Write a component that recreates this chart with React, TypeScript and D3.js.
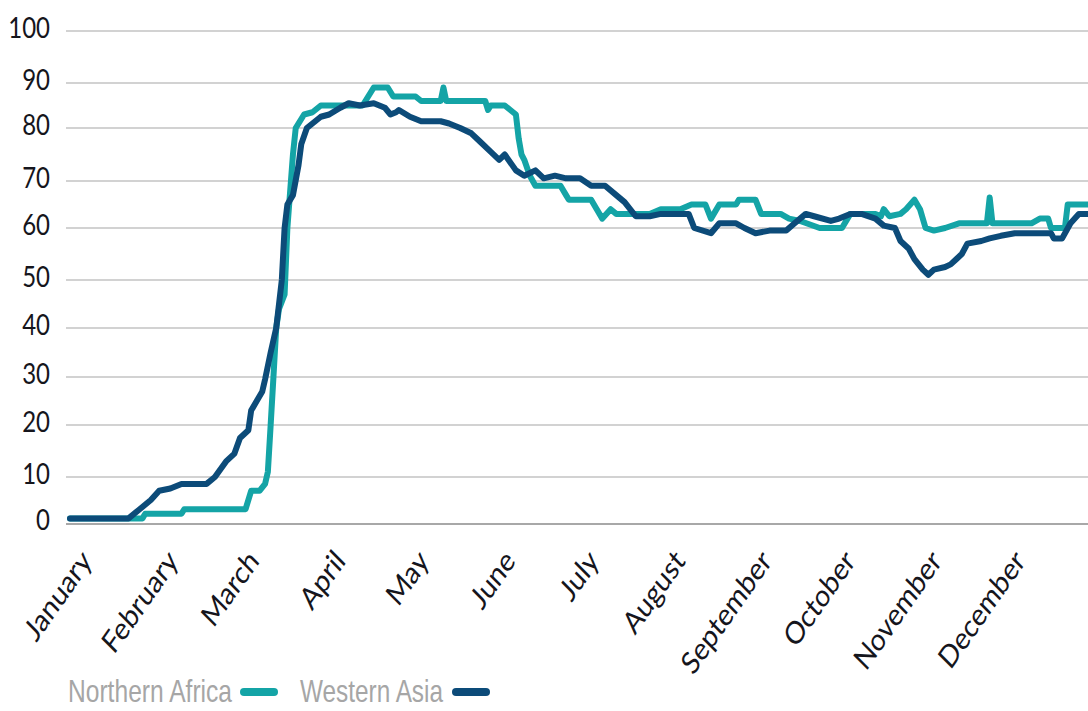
import * as d3 from "d3";
import { useEffect, useRef } from "react";

// y ticks and month labels
const yTicks = [0, 10, 20, 30, 40, 50, 60, 70, 80, 90, 100];
const monthNames = [
  "January", "February", "March", "April", "May", "June",
  "July", "August", "September", "October", "November", "December",
];

// Northern Africa (day of year, value)
const naDays = [
  0, 26, 27, 40, 41, 63, 65, 68, 70, 71, 72, 73, 74, 75, 77, 78, 80, 81, 83, 84,
  87, 90, 105, 107, 109, 114, 116, 124, 126, 133, 134, 135, 149, 150, 151, 156,
  158, 160, 161, 162, 163, 165, 167, 176, 178, 179, 187, 189, 191, 194, 196, 208,
  212, 219, 223, 228, 230, 233, 239, 240, 246, 248, 255, 258, 262, 269, 277, 280,
  289, 291, 292, 294, 298, 300, 303, 305, 307, 310, 314, 319, 329, 330, 331, 345,
  348, 351, 352, 357, 358, 367,
];
const naValues = [
  1, 1, 2, 2, 3, 3, 7, 7, 8.5, 11, 20, 30, 40, 44, 47, 60, 75, 80, 82, 83,
  83.5, 85, 85, 87, 89, 89, 87, 87, 86, 86, 89, 86, 86, 84, 85, 85,
  84, 83, 78, 75, 74, 71, 69, 69, 67, 66, 66, 64, 62, 64, 63, 63,
  64, 64, 65, 65, 62, 65, 65, 66, 66, 63, 63, 62, 61.5, 60, 60, 63,
  63, 62.5, 64, 62.5, 63, 64, 66, 64, 60, 59.5, 60, 61, 61, 66.5, 61, 61,
  62, 62, 60, 60, 65, 65,
];

// Western Asia (day of year, value)
const waDays = [
  0, 21, 25, 29, 32, 36, 40, 49, 52, 56, 59, 61, 64, 65, 67, 69, 70, 72, 74, 76,
  77, 78, 80, 82, 83, 85, 86, 90, 93, 97, 100, 104, 109, 113, 115, 117, 118, 122,
  126, 133, 136, 140, 144, 147, 151, 154, 156, 160, 163, 167, 170, 174, 178, 183,
  187, 192, 196, 199, 203, 208, 212, 222, 224, 230, 233, 239, 242, 246, 251, 257,
  260, 264, 267, 273, 276, 280, 284, 289, 292, 296, 298, 301, 303, 306, 308, 310,
  314, 316, 318, 320, 322, 327, 330, 334, 339, 352, 353, 356, 359, 362, 367,
];
const waValues = [
  1, 1, 3, 5, 7, 7.5, 8.5, 8.5, 10, 13, 14.5, 17.5, 19, 23, 25, 27, 29.5, 35, 40, 50,
  60, 65, 67, 73, 77, 80, 80.5, 82.5, 83, 84.5, 85.5, 85, 85.5, 84.5, 83, 83.5, 84, 82.5,
  81.5, 81.5, 81, 80, 79, 77.5, 75.5, 74, 75, 72, 71, 72, 70.5, 71, 70.5, 70.5,
  69, 69, 67, 65.5, 62.5, 62.5, 63, 63, 60, 59, 61, 61, 60, 59, 59.5, 59.5,
  61, 63, 62.5, 61.5, 62, 63, 63, 62, 60.5, 60, 57.5, 56, 54, 52, 51, 52,
  52.5, 53, 54, 55, 57, 57.5, 58, 58.5, 59, 59, 58, 58, 61, 63, 63,
];

const series = [
  { name: "Northern Africa", days: naDays, values: naValues, color: "#14a4a6" },
  { name: "Western Asia", days: waDays, values: waValues, color: "#0c4b79" },
];

export default function App() {
  const svgRef = useRef<SVGSVGElement>(null);
  const width = 1088;
  const height = 711;

  useEffect(() => {
    const svg = d3.select(svgRef.current);
    svg.selectAll("*").remove();

    const start = new Date(2020, 0, 1);
    const end = new Date(2021, 0, 1);
    const x = d3.scaleTime().domain([start, end]).range([70, 1090]);
    // gridlines in the picture are not evenly spaced
    const y = d3
      .scaleLinear()
      .domain(yTicks)
      .range([523, 477, 425, 377, 328, 280, 228, 181, 128, 83, 31]);

    const font = "Lato, 'Open Sans', sans-serif";

    // gridlines
    svg.append("g")
      .selectAll("line")
      .data(yTicks.filter((t) => t > 0))
      .enter()
      .append("line")
      .attr("x1", 66)
      .attr("x2", width)
      .attr("y1", (d) => y(d))
      .attr("y2", (d) => y(d))
      .attr("stroke", "#d2d2d2")
      .attr("stroke-width", 2);

    // y labels (picture is a bit stretched vertically)
    svg.append("g")
      .selectAll("text")
      .data(yTicks)
      .enter()
      .append("text")
      .attr("transform", (d) => `translate(50,${y(d) - 3}) scale(1,1.2)`)
      .attr("dy", "0.36em")
      .attr("text-anchor", "end")
      .attr("font-family", font)
      .attr("font-size", 24)
      .attr("fill", "#15151c")
      .text((d) => d);

    // month labels
    const months = d3.timeMonth.range(start, end);
    svg.append("g")
      .selectAll("text")
      .data(months)
      .enter()
      .append("text")
      .attr("transform", (d) => `translate(${x(d) + 23},562) scale(1,1.2) rotate(-50)`)
      .attr("text-anchor", "end")
      .attr("font-family", font)
      .attr("font-size", 26)
      .attr("fill", "#15151c")
      .text((d, i) => monthNames[i]);

    // lines
    const line = d3
      .line<[number, number]>()
      .x((d) => x(d3.timeDay.offset(start, d[0])))
      .y((d) => y(d[1]));

    series.forEach((s) => {
      const pts = s.days.map((d, i) => [d, s.values[i]] as [number, number]);
      svg.append("path")
        .datum(pts)
        .attr("d", line)
        .attr("fill", "none")
        .attr("stroke", s.color)
        .attr("stroke-width", 6)
        .attr("stroke-linejoin", "round")
        .attr("stroke-linecap", "round");
    });

    // x axis line
    svg.append("line")
      .attr("x1", 66)
      .attr("x2", width)
      .attr("y1", y(0) + 1)
      .attr("y2", y(0) + 1)
      .attr("stroke", "#a8a8a8")
      .attr("stroke-width", 2);

    // legend
    const legend = svg.append("g").attr("transform", "translate(68,702)");
    const textWidths = [164, 143];
    const swatchX = [172, 152];
    let cx = 0;
    series.forEach((s, i) => {
      legend.append("text")
        .attr("x", cx)
        .attr("y", 0)
        .attr("font-family", "'Liberation Sans Narrow', 'Arial Narrow', sans-serif")
        .attr("font-size", 32)
        .attr("textLength", textWidths[i])
        .attr("lengthAdjust", "spacingAndGlyphs")
        .attr("fill", "#a6a6a6")
        .text(s.name);
      legend.append("line")
        .attr("x1", cx + swatchX[i] + 4)
        .attr("x2", cx + swatchX[i] + 34)
        .attr("y1", -10)
        .attr("y2", -10)
        .attr("stroke", s.color)
        .attr("stroke-width", 8)
        .attr("stroke-linecap", "round");
      cx += 232;
    });
  }, []);

  return (
    <div style={{ position: "absolute", left: 0, top: 0, background: "#fff" }}>
      <svg ref={svgRef} width={width} height={height}></svg>
    </div>
  );
}
